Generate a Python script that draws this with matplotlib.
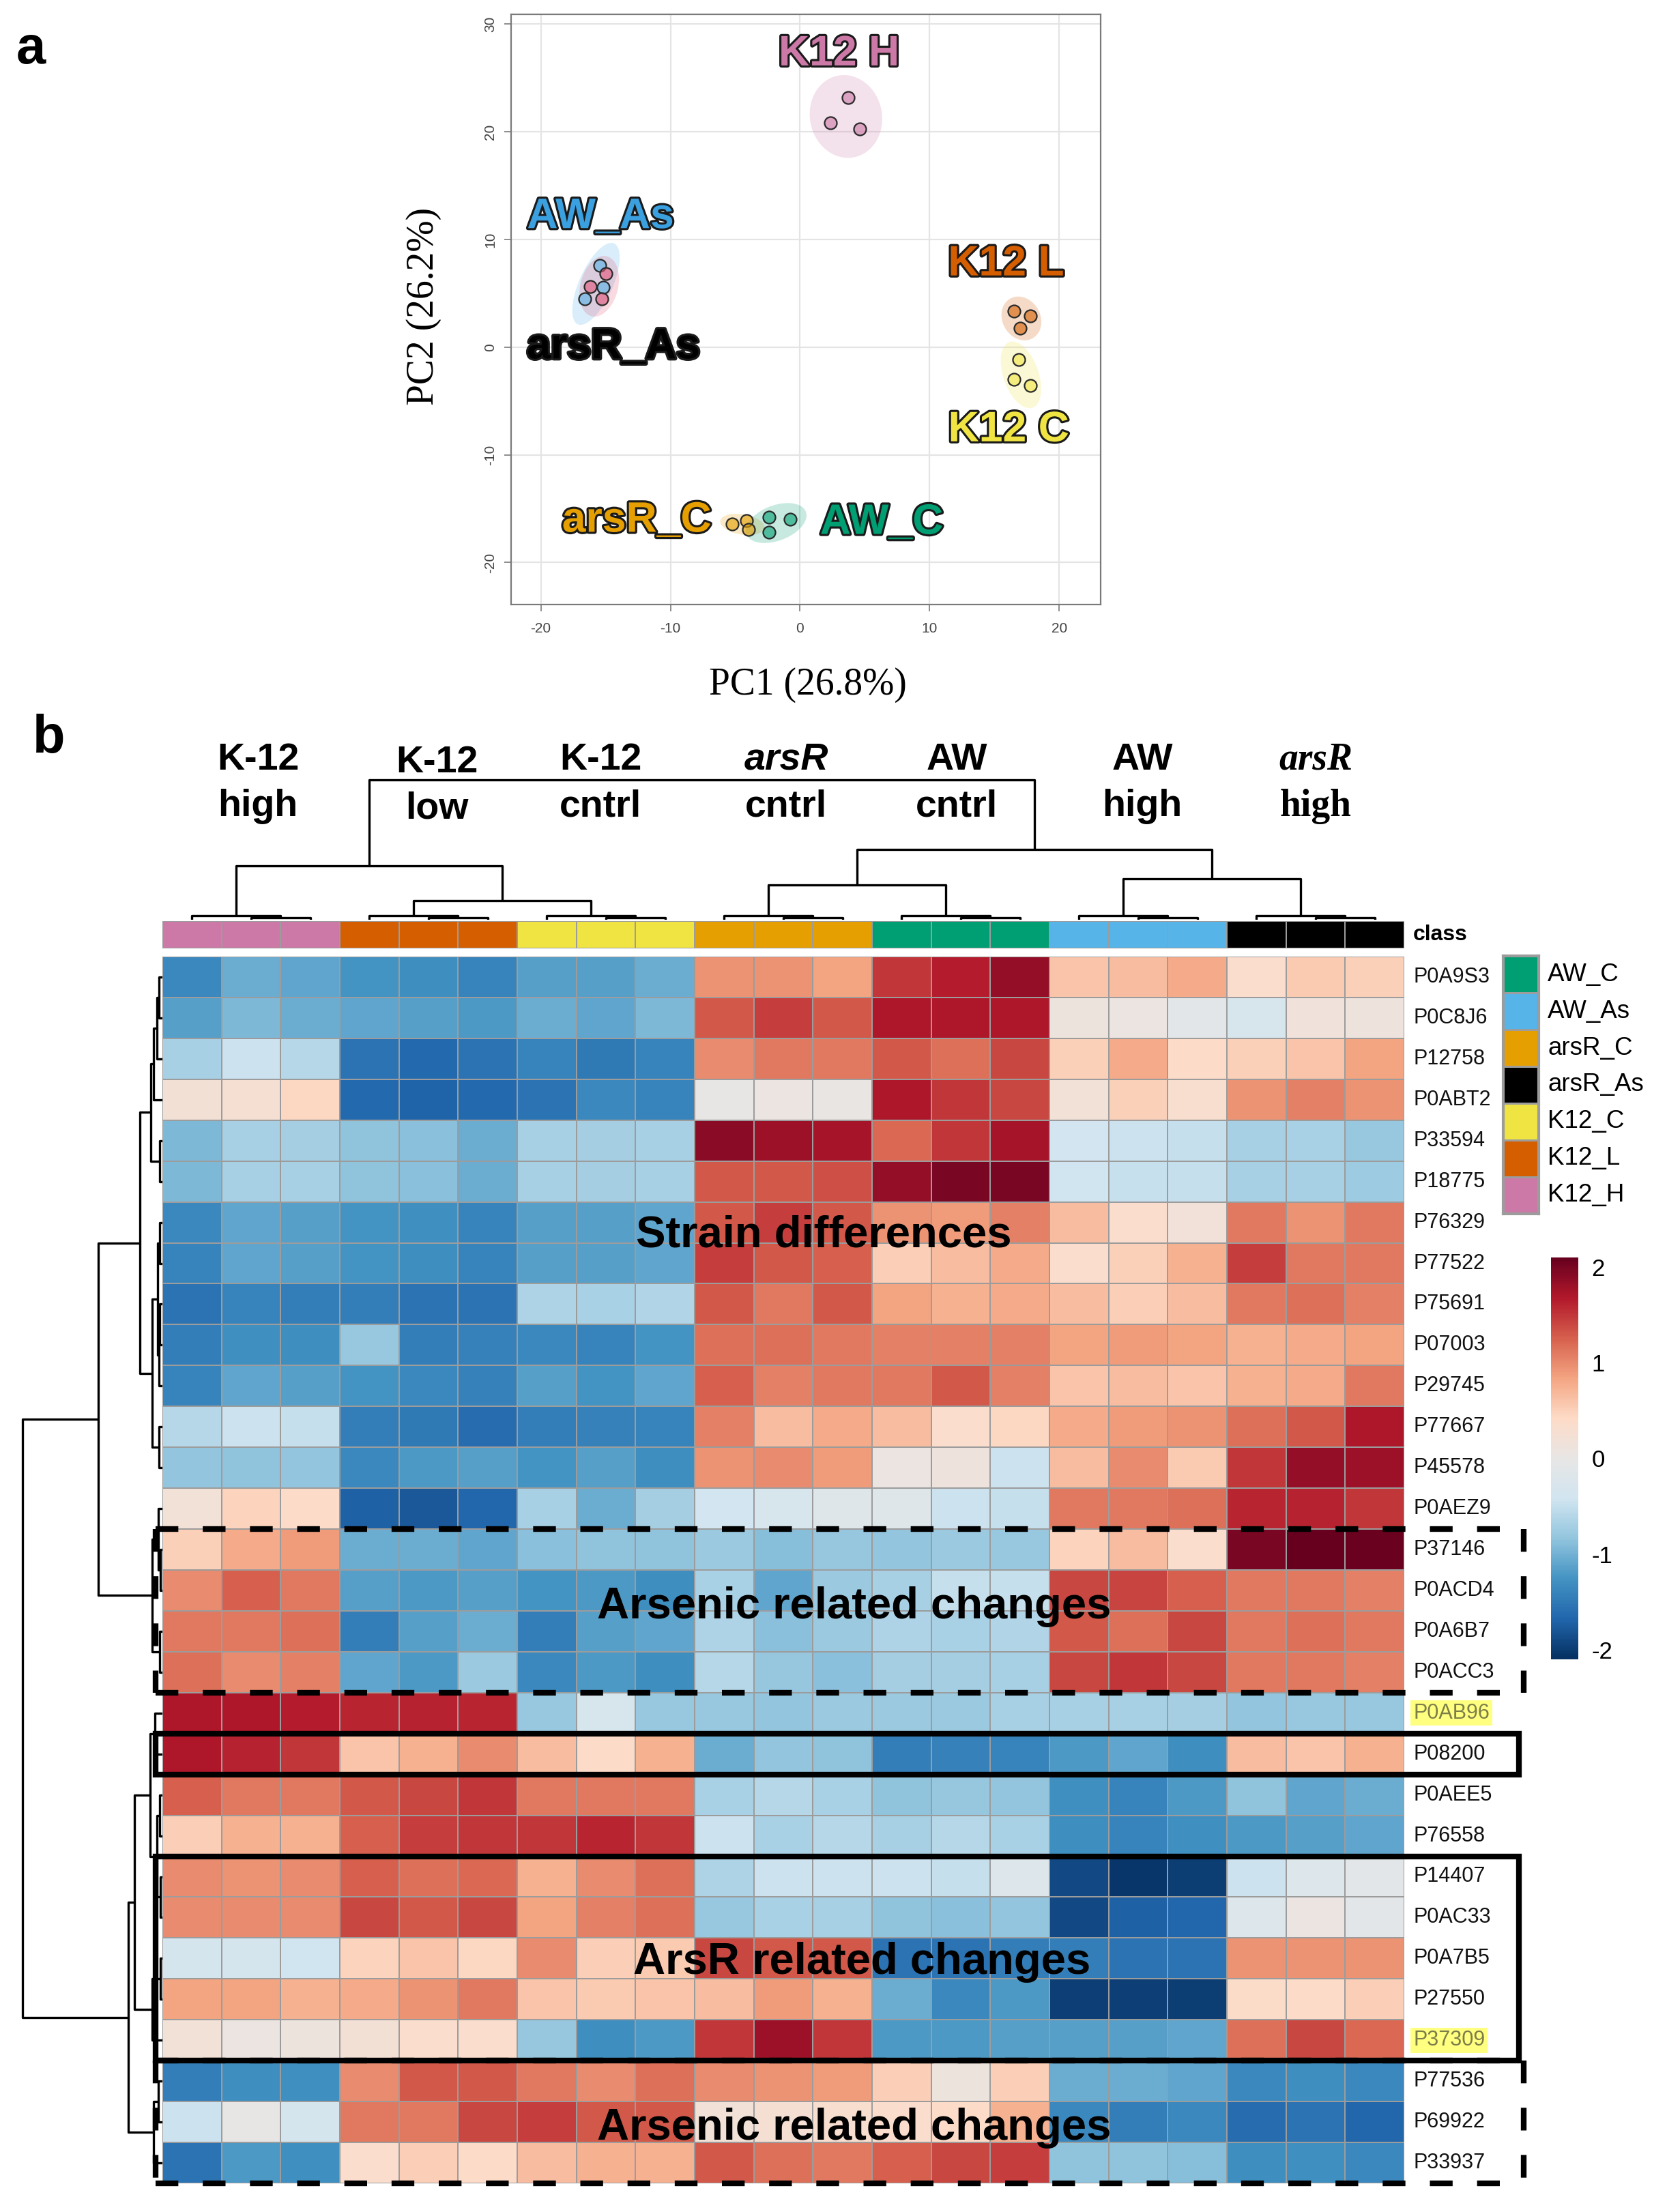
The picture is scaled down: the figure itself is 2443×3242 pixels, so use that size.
import numpy as np
import matplotlib
matplotlib.use('Agg')
import matplotlib.pyplot as plt
from matplotlib.patches import Ellipse, Rectangle
from matplotlib.colors import ListedColormap, Normalize, to_rgba, LinearSegmentedColormap
from matplotlib.cm import ScalarMappable
import matplotlib.patheffects as pe

plt.rcParams['font.family'] = ['Liberation Sans', 'DejaVu Sans']
plt.rcParams['axes.unicode_minus'] = False

# ---------------- PCA data (panel a) ----------------
pca_groups = ['K12_H', 'AW_As', 'arsR_As', 'K12_L', 'K12_C', 'arsR_C', 'AW_C']
pc1_K12_H = [3.7, 2.33, 4.6]
pc2_K12_H = [23.2, 20.8, 20.25]
pc1_AW_As = [-15.45, -15.2, -16.6]
pc2_AW_As = [7.56, 5.56, 4.5]
pc1_arsR_As = [-15.0, -16.2, -15.3]
pc2_arsR_As = [6.8, 5.65, 4.5]
pc1_K12_L = [16.5, 17.75, 17.0]
pc2_K12_L = [3.35, 2.9, 1.74]
pc1_K12_C = [16.9, 16.5, 17.75]
pc2_K12_C = [-1.15, -3.0, -3.57]
pc1_arsR_C = [-5.25, -4.14, -3.96]
pc2_arsR_C = [-16.4, -16.1, -16.9]
pc1_AW_C = [-2.4, -2.4, -0.74]
pc2_AW_C = [-15.8, -17.2, -16.0]
pca_pc1 = [pc1_K12_H, pc1_AW_As, pc1_arsR_As, pc1_K12_L, pc1_K12_C, pc1_arsR_C, pc1_AW_C]
pca_pc2 = [pc2_K12_H, pc2_AW_As, pc2_arsR_As, pc2_K12_L, pc2_K12_C, pc2_arsR_C, pc2_AW_C]
pca_point_colors = ['#CC79A7', '#56B4E9', '#E5577A', '#D55E00', '#F0E442', '#E69F00', '#009E73']
pca_labels = ['K12 H', 'AW_As', 'arsR_As', 'K12 L', 'K12 C', 'arsR_C', 'AW_C']
pca_label_colors = ['#CC79A7', '#3AA0E0', '#000000', '#D55E00', '#F0E442', '#E69F00', '#009E73']
pca_label_x = [3.0, -15.4, -14.4, 15.9, 16.1, -12.6, 6.3]
pca_label_y = [27.2, 12.1, 0.0, 7.7, -7.7, -16.1, -16.3]
pca_xticks = [-20, -10, 0, 10, 20]
pca_yticks = [-20, -10, 0, 10, 20, 30]

# ---------------- Heatmap data (panel b) ----------------
col_groups = ['K12_H', 'K12_L', 'K12_C', 'arsR_C', 'AW_C', 'AW_As', 'arsR_As']
group_line1 = ['K-12', 'K-12', 'K-12', 'arsR', 'AW', 'AW', 'arsR']
group_line2 = ['high', 'low', 'cntrl', 'cntrl', 'cntrl', 'high', 'high']
class_colors = {'AW_C': '#009E73', 'AW_As': '#56B4E9', 'arsR_C': '#E69F00',
                'arsR_As': '#000000', 'K12_C': '#F0E442', 'K12_L': '#D55E00',
                'K12_H': '#CC79A7'}
legend_order = ['AW_C', 'AW_As', 'arsR_C', 'arsR_As', 'K12_C', 'K12_L', 'K12_H']

row_names = ['P0A9S3', 'P0C8J6', 'P12758', 'P0ABT2', 'P33594', 'P18775', 'P76329',
             'P77522', 'P75691', 'P07003', 'P29745', 'P77667', 'P45578', 'P0AEZ9',
             'P37146', 'P0ACD4', 'P0A6B7', 'P0ACC3', 'P0AB96', 'P08200', 'P0AEE5',
             'P76558', 'P14407', 'P0AC33', 'P0A7B5', 'P27550', 'P37309', 'P77536',
             'P69922', 'P33937']
highlighted = ['P0AB96', 'P37309']

r_P0A9S3 = [-1.35, -1.05, -1.1, -1.25, -1.3, -1.4, -1.15, -1.15, -1.05, 0.95, 0.95, 0.85, 1.5, 1.65, 1.85, 0.6, 0.65, 0.8, 0.35, 0.55, 0.5]
r_P0C8J6 = [-1.15, -0.95, -1.05, -1.1, -1.15, -1.2, -1.05, -1.1, -0.95, 1.3, 1.45, 1.3, 1.7, 1.7, 1.7, 0.1, 0.08, -0.1, -0.3, 0.15, 0.12]
r_P12758 = [-0.7, -0.45, -0.6, -1.55, -1.65, -1.55, -1.4, -1.5, -1.4, 1.0, 1.1, 1.1, 1.3, 1.15, 1.4, 0.5, 0.8, 0.4, 0.5, 0.6, 0.85]
r_P0ABT2 = [0.22, 0.25, 0.45, -1.65, -1.7, -1.65, -1.55, -1.35, -1.4, 0.0, 0.08, 0.02, 1.7, 1.5, 1.4, 0.2, 0.5, 0.3, 0.95, 1.05, 0.95]
r_P33594 = [-0.95, -0.7, -0.72, -0.85, -0.88, -1.05, -0.7, -0.72, -0.7, 1.9, 1.8, 1.75, 1.2, 1.5, 1.75, -0.4, -0.45, -0.5, -0.7, -0.68, -0.8]
r_P18775 = [-0.95, -0.7, -0.7, -0.85, -0.88, -1.05, -0.7, -0.72, -0.7, 1.3, 1.3, 1.35, 1.85, 2.0, 2.0, -0.42, -0.48, -0.5, -0.7, -0.7, -0.76]
r_P76329 = [-1.35, -1.1, -1.15, -1.25, -1.28, -1.4, -1.15, -1.15, -1.1, 1.3, 1.45, 1.3, 0.95, 0.9, 1.05, 0.65, 0.35, 0.18, 1.1, 0.95, 1.1]
r_P77522 = [-1.4, -1.1, -1.15, -1.25, -1.3, -1.4, -1.15, -1.15, -1.1, 1.45, 1.3, 1.25, 0.52, 0.65, 0.8, 0.35, 0.5, 0.75, 1.45, 1.1, 1.1]
r_P75691 = [-1.55, -1.4, -1.45, -1.45, -1.55, -1.55, -0.65, -0.68, -0.63, 1.3, 1.1, 1.3, 0.85, 0.75, 0.8, 0.65, 0.52, 0.65, 1.1, 1.15, 1.05]
r_P07003 = [-1.45, -1.28, -1.3, -0.8, -1.45, -1.42, -1.35, -1.4, -1.25, 1.15, 1.15, 1.1, 1.05, 1.05, 1.05, 0.85, 0.9, 0.85, 0.75, 0.8, 0.85]
r_P29745 = [-1.4, -1.1, -1.15, -1.25, -1.35, -1.42, -1.15, -1.25, -1.1, 1.25, 1.05, 1.1, 1.1, 1.3, 1.05, 0.6, 0.65, 0.6, 0.75, 0.8, 1.1]
r_P77667 = [-0.6, -0.45, -0.5, -1.45, -1.5, -1.62, -1.45, -1.42, -1.4, 1.05, 0.65, 0.8, 0.65, 0.35, 0.45, 0.8, 0.9, 0.95, 1.15, 1.3, 1.7]
r_P45578 = [-0.83, -0.85, -0.83, -1.35, -1.2, -1.15, -1.25, -1.15, -1.3, 0.95, 1.0, 0.9, 0.05, 0.12, -0.45, 0.65, 1.0, 0.55, 1.5, 1.85, 1.8]
r_P0AEZ9 = [0.2, 0.48, 0.4, -1.72, -1.78, -1.67, -0.7, -1.05, -0.72, -0.4, -0.3, -0.15, -0.15, -0.45, -0.5, 1.1, 1.1, 1.15, 1.6, 1.62, 1.5]
r_P37146 = [0.5, 0.8, 0.9, -1.05, -1.05, -1.1, -0.88, -0.85, -0.85, -0.78, -0.9, -0.82, -0.83, -0.78, -0.8, 0.48, 0.65, 0.35, 2.0, 2.1, 2.08]
r_P0ACD4 = [1.0, 1.25, 1.1, -1.15, -1.2, -1.15, -1.25, -1.2, -1.3, -0.68, -1.1, -0.78, -0.7, -0.5, -0.5, 1.4, 1.42, 1.25, 1.1, 1.1, 1.05]
r_P0A6B7 = [1.1, 1.1, 1.15, -1.45, -1.15, -1.05, -1.45, -1.15, -1.1, -0.65, -0.88, -0.78, -0.65, -0.68, -0.63, 1.3, 1.15, 1.4, 1.1, 1.15, 1.1]
r_P0ACC3 = [1.15, 1.0, 1.05, -1.1, -1.2, -0.78, -1.35, -1.2, -1.3, -0.6, -0.82, -0.88, -0.72, -0.72, -0.7, 1.4, 1.5, 1.4, 1.1, 1.1, 1.05]
r_P0AB96 = [1.7, 1.7, 1.65, 1.6, 1.62, 1.6, -0.8, -0.3, -0.8, -0.8, -0.83, -0.78, -0.78, -0.78, -0.7, -0.7, -0.7, -0.72, -0.83, -0.8, -0.8]
r_P08200 = [1.7, 1.62, 1.5, 0.6, 0.75, 1.0, 0.65, 0.4, 0.75, -1.05, -0.83, -0.85, -1.45, -1.42, -1.4, -1.2, -1.1, -1.3, 0.65, 0.6, 0.75]
r_P0AEE5 = [1.25, 1.1, 1.1, 1.3, 1.4, 1.5, 1.1, 1.1, 1.1, -0.68, -0.6, -0.68, -0.85, -0.82, -0.83, -1.28, -1.4, -1.2, -0.85, -1.1, -1.05]
r_P76558 = [0.52, 0.75, 0.75, 1.25, 1.45, 1.5, 1.5, 1.6, 1.5, -0.45, -0.68, -0.6, -0.7, -0.6, -0.68, -1.3, -1.4, -1.28, -1.2, -1.15, -1.1]
r_P14407 = [1.0, 0.95, 1.0, 1.25, 1.15, 1.2, 0.75, 1.0, 1.15, -0.65, -0.45, -0.45, -0.45, -0.5, -0.2, -1.9, -2.05, -2.0, -0.45, -0.2, -0.1]
r_P0AC33 = [1.0, 1.0, 1.0, 1.4, 1.3, 1.4, 0.85, 1.05, 1.15, -0.8, -0.68, -0.7, -0.85, -0.88, -0.83, -1.9, -1.72, -1.67, -0.2, 0.05, -0.1]
r_P0A7B5 = [-0.35, -0.35, -0.42, 0.48, 0.6, 0.45, 1.0, 0.52, 0.55, 1.4, 1.3, 1.3, -1.55, -1.55, -1.45, -1.45, -1.55, -1.55, 0.95, 0.95, 0.95]
r_P27550 = [0.85, 0.85, 0.75, 0.8, 0.95, 1.1, 0.6, 0.55, 0.6, 0.65, 0.9, 0.75, -1.05, -1.35, -1.2, -1.98, -1.98, -2.0, 0.38, 0.4, 0.52]
r_P37309 = [0.2, 0.05, 0.1, 0.22, 0.35, 0.35, -0.82, -1.3, -1.2, 1.5, 1.8, 1.5, -1.2, -1.2, -1.15, -1.15, -1.15, -1.1, 1.15, 1.4, 1.2]
r_P77536 = [-1.45, -1.3, -1.28, 1.0, 1.3, 1.3, 1.1, 1.0, 1.15, 1.0, 0.95, 0.9, 0.52, 0.1, 0.52, -1.05, -1.05, -1.1, -1.35, -1.3, -1.35]
r_P69922 = [-0.45, 0.0, -0.35, 1.1, 1.1, 1.4, 1.45, 1.3, 1.3, 0.2, 0.25, 0.3, 0.35, 0.4, 0.75, -1.35, -1.45, -1.35, -1.62, -1.55, -1.67]
r_P33937 = [-1.55, -1.2, -1.28, 0.35, 0.52, 0.4, 0.65, 0.75, 0.75, 1.3, 1.15, 1.1, 1.25, 1.4, 1.45, -0.85, -0.85, -0.9, -1.3, -1.28, -1.35]

heat_rows = [r_P0A9S3, r_P0C8J6, r_P12758, r_P0ABT2, r_P33594, r_P18775, r_P76329,
             r_P77522, r_P75691, r_P07003, r_P29745, r_P77667, r_P45578, r_P0AEZ9,
             r_P37146, r_P0ACD4, r_P0A6B7, r_P0ACC3, r_P0AB96, r_P08200, r_P0AEE5,
             r_P76558, r_P14407, r_P0AC33, r_P0A7B5, r_P27550, r_P37309, r_P77536,
             r_P69922, r_P33937]

# dendrogram merges: (child a, child b, merge height); clusters numbered from n
col_links = [(1, 2, 3), (0, 21, 6), (4, 5, 3), (3, 23, 6), (7, 8, 3), (6, 25, 6),
             (10, 11, 3), (9, 27, 6), (13, 14, 3), (12, 29, 6), (16, 17, 3), (15, 31, 6),
             (19, 20, 3), (18, 33, 6), (24, 26, 28), (22, 35, 79), (28, 30, 51),
             (32, 34, 60), (37, 38, 103), (36, 39, 205)]
row_links = [(0, 1, 5), (30, 2, 8), (31, 3, 13), (4, 5, 4), (32, 33, 17),
             (6, 7, 4), (8, 9, 4), (36, 10, 5), (35, 37, 7), (11, 12, 5), (38, 39, 15),
             (34, 40, 33), (14, 15, 3), (13, 42, 6), (16, 17, 4), (43, 44, 15),
             (41, 45, 94), (18, 19, 11), (20, 21, 4), (22, 23, 3), (48, 49, 8),
             (47, 50, 18), (24, 25, 3), (52, 26, 15), (51, 53, 41), (27, 28, 6),
             (55, 29, 13), (54, 56, 50), (46, 57, 205)]

# annotation boxes: (first row boundary, last row boundary, style)
region_boxes = [(14, 18, 'dashed'), (19, 20, 'solid'), (22, 27, 'solid'), (27, 30, 'dashed')]
region_texts = ['Strain differences', 'Arsenic related changes', 'ArsR related changes',
                'Arsenic related changes']
region_text_col = [11.18, 11.7, 11.83, 11.7]
region_text_row = [6.82, 15.9, 24.6, 28.65]

# diverging palette (RdBu, reversed) with a light grey centre
heat_palette = ['#053061', '#2166AC', '#4393C3', '#92C5DE', '#D1E5F0', '#E8E6E5',
                '#FDDBC7', '#F4A582', '#D6604D', '#B2182B', '#67001F']

# ---------------- figure ----------------
W, H = 2443, 3242
DPI = 100
fig = plt.figure(figsize=(W / DPI, H / DPI), dpi=DPI)
heat_cmap = LinearSegmentedColormap.from_list('rdbu_grey', heat_palette, N=256)


def add_ax(x0, y0, x1, y1):
    return fig.add_axes([x0 / W, 1 - y1 / H, (x1 - x0) / W, (y1 - y0) / H])


def fx(x):
    return x / W


def fy(y):
    return 1 - y / H


def conf_ellipse(x, y, color, k=2.45):
    cov = np.cov(x, y)
    vals, vecs = np.linalg.eigh(cov)
    order = vals.argsort()[::-1]
    vals, vecs = vals[order], vecs[:, order]
    angle = np.degrees(np.arctan2(vecs[1, 0], vecs[0, 0]))
    w, h = 2 * k * np.sqrt(vals)
    return Ellipse((np.mean(x), np.mean(y)), w, h, angle=angle,
                   facecolor=to_rgba(color, 0.22), edgecolor='none', zorder=2)


# ---- panel a ----
ax = add_ax(749, 21, 1613, 886)
ax.set_xlim(-22.3, 23.2)
ax.set_ylim(-23.9, 30.9)
ax.set_xticks(pca_xticks)
ax.set_yticks(pca_yticks)
ax.grid(True, color='#e4e4e4', lw=1.6)
ax.set_axisbelow(True)
for s in ax.spines.values():
    s.set_color('#7a7a7a')
    s.set_linewidth(1.6)
ax.tick_params(axis='both', colors='#7a7a7a', labelcolor='#444444', labelsize=15,
               length=7, width=1.2)
ax.tick_params(axis='x', pad=12)
ax.tick_params(axis='y', pad=8)
plt.setp(ax.get_yticklabels(), rotation=90, va='center')
for xs, ys, c in zip(pca_pc1, pca_pc2, pca_point_colors):
    ax.add_patch(conf_ellipse(np.array(xs), np.array(ys), c))
for xs, ys, c in zip(pca_pc1, pca_pc2, pca_point_colors):
    ax.plot(xs, ys, 'o', ms=13, mfc=to_rgba(c, 0.6), mec='#2a2a2a', mew=1.6,
            ls='none', zorder=3)
for lab, c, x, y in zip(pca_labels, pca_label_colors, pca_label_x, pca_label_y):
    t = ax.text(x, y, lab, color=c, fontsize=45, fontweight='bold', ha='center',
                va='center', zorder=4)
    t.set_path_effects([pe.withStroke(linewidth=4.5, foreground='#1a1a1a')])
fig.text(fx(1184), fy(1004), 'PC1 (26.8%)', fontsize=40, ha='center', va='center',
         family=['Liberation Serif', 'DejaVu Serif'])
fig.text(fx(621), fy(449), 'PC2 (26.2%)', fontsize=40, ha='center', va='center',
         rotation=90, family=['Liberation Serif', 'DejaVu Serif'])
fig.text(fx(45), fy(72), 'a', fontsize=56, fontweight='bold', ha='center', va='center')
fig.text(fx(72), fy(1083), 'b', fontsize=56, fontweight='bold', ha='center', va='center')

# ---- panel b: heatmap ----
Z = np.array(heat_rows)
nrow, ncol = Z.shape
norm = Normalize(-2.1, 2.1)
HX0, HX1, HY0, HY1 = 238, 2058, 1402, 3200
axh = add_ax(HX0, HY0, HX1, HY1)
axh.pcolormesh(np.arange(ncol + 1), np.arange(nrow + 1), Z, cmap=heat_cmap, norm=norm,
               edgecolors='#9c9c9c', linewidth=1.3)
axh.set_xlim(0, ncol)
axh.set_ylim(nrow, 0)
axh.axis('off')

for i, name in enumerate(row_names):
    if name in highlighted:
        axh.text(ncol + 0.15, i + 0.5, name, fontsize=22, ha='left', va='center',
                 color='#7d7d4a',
                 bbox=dict(boxstyle='square,pad=0.12', fc='#ffff80', ec='none'))
    else:
        axh.text(ncol + 0.15, i + 0.5, name, fontsize=22, ha='left', va='center',
                 color='#111111')

# class bar
axc = add_ax(HX0, 1350, HX1, 1390)
grp_idx = np.repeat(np.arange(len(col_groups)), 3)[None, :]
axc.pcolormesh(np.arange(ncol + 1), [0, 1], grp_idx,
               cmap=ListedColormap([class_colors[g] for g in col_groups]),
               vmin=-0.5, vmax=len(col_groups) - 0.5, edgecolors='#9c9c9c', linewidth=1.3)
axc.set_xlim(0, ncol)
axc.axis('off')
fig.text(fx(2071), fy(1370), 'class', fontsize=23, fontweight='bold', ha='left', va='center')

# region boxes
xl, xr, xrv = -0.115, 22.94, 23.02
for (r0, r1, style) in region_boxes:
    if style == 'solid':
        axh.add_patch(Rectangle((xl, r0), xr - xl, r1 - r0, fill=False, ec='black',
                                lw=6, clip_on=False, zorder=5))
    else:
        ls = (0, (4, 4.3))
        for yy in (r0, r1):
            axh.plot([xl, xr], [yy, yy], color='black', lw=6, ls=ls, clip_on=False,
                     zorder=5, solid_capstyle='butt', dash_capstyle='butt')
        axh.plot([xl, xl], [r0, r1], color='black', lw=6, ls=ls, clip_on=False, zorder=5)
        axh.plot([xrv, xrv], [r0, r1], color='black', lw=6, ls=ls, clip_on=False, zorder=5)
for txt, cx, cy in zip(region_texts, region_text_col, region_text_row):
    axh.text(cx, cy, txt, fontsize=47, fontweight='bold', ha='center', va='center',
             color='black', zorder=6)


# dendrograms
def dendro_segments(links, n):
    pos = {i: i + 0.5 for i in range(n)}
    hgt = {i: 0.0 for i in range(n)}
    segs = []
    for k, (a, b, h) in enumerate(links):
        c = n + k
        pos[c] = (pos[a] + pos[b]) / 2
        hgt[c] = h
        segs.append(([pos[a], pos[a], pos[b], pos[b]], [hgt[a], h, h, hgt[b]]))
    return segs


axd = add_ax(HX0, 1137, HX1, 1348)
for p, h in dendro_segments(col_links, ncol):
    axd.plot(p, h, color='black', lw=2.4, solid_capstyle='butt')
axd.set_xlim(0, ncol)
axd.set_ylim(0, 211)
axd.axis('off')

axr = add_ax(28, HY0, HX0, HY1)
for p, h in dendro_segments(row_links, nrow):
    axr.plot(h, p, color='black', lw=2.4, solid_capstyle='butt')
axr.set_xlim(210, 0)
axr.set_ylim(nrow, 0)
axr.axis('off')

# group labels
col_w = (HX1 - HX0) / ncol
label_shift = [10, 12, -8, 4, -6, 6, 0]
label_drop = [0, 4, 0, 0, 0, 0, 0]
for g, (l1, l2) in enumerate(zip(group_line1, group_line2)):
    cx = HX0 + (3 * g + 1.5) * col_w + label_shift[g]
    serif = (g == len(group_line1) - 1)
    fam = ['Liberation Serif', 'DejaVu Serif'] if serif else ['Liberation Sans', 'DejaVu Sans']
    style = 'italic' if l1 == 'arsR' else 'normal'
    fig.text(fx(cx), fy(1128 + label_drop[g]), l1, fontsize=40, fontweight='bold',
             fontstyle=style, ha='center', va='baseline', family=fam)
    fig.text(fx(cx), fy(1196 + label_drop[g]), l2, fontsize=40, fontweight='bold',
             ha='center', va='baseline', family=fam)

# class legend
axl = add_ax(2203, 1401, 2255, 1779)
axl.pcolormesh([0, 1], np.arange(len(legend_order) + 1),
               np.arange(len(legend_order))[:, None],
               cmap=ListedColormap([class_colors[g] for g in legend_order]),
               vmin=-0.5, vmax=len(legend_order) - 0.5, edgecolors='#9c9c9c', linewidth=1.0)
axl.set_ylim(len(legend_order), 0)
axl.set_xlim(0, 1)
for s in axl.spines.values():
    s.set_color('#9c9c9c')
    s.set_linewidth(3)
axl.set_xticks([])
axl.set_yticks([])
for i, g in enumerate(legend_order):
    axl.text(1.25, i + 0.5, g, transform=axl.transData, fontsize=26.5, ha='left',
             va='center', clip_on=False)

# colorbar
cax = add_ax(2273, 1843, 2313, 2432)
cb = fig.colorbar(ScalarMappable(norm=norm, cmap=heat_cmap), cax=cax, ticks=[-2, -1, 0, 1, 2])
cb.outline.set_visible(False)
cax.tick_params(length=0, labelsize=25, pad=14)
cb.ax.set_yticklabels(['-2', '-1', '0', '1', '2'])

fig.savefig('out.png', dpi=DPI)
